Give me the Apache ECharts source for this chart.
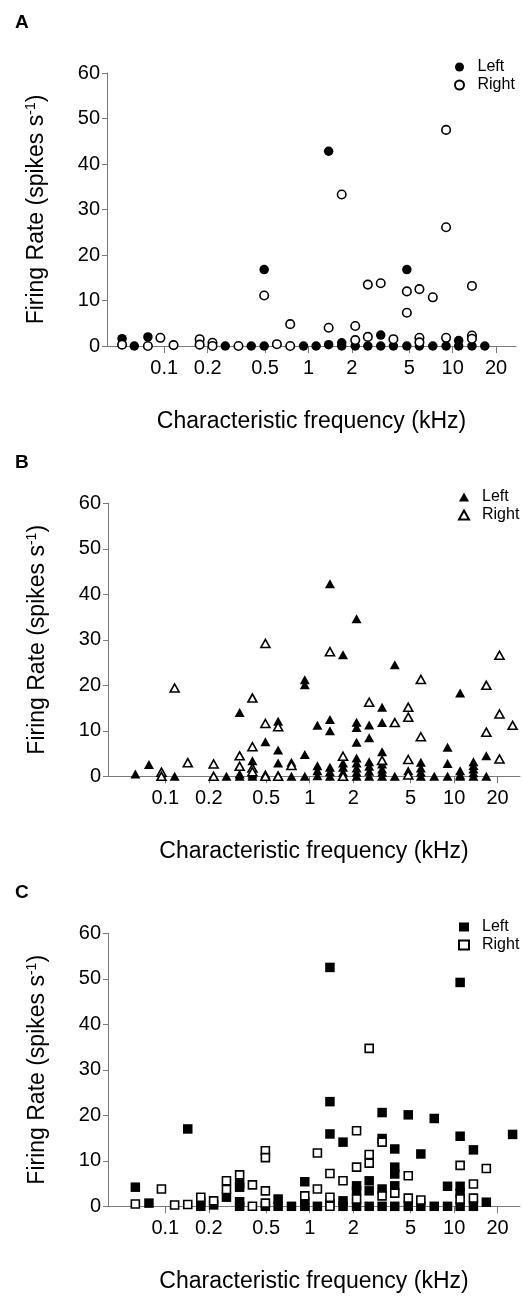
<!DOCTYPE html>
<html><head><meta charset="utf-8">
<script src="https://cdn.jsdelivr.net/npm/echarts@6/dist/echarts.min.js"></script>
<style>html,body{margin:0;padding:0;background:#fff}#c{width:523px;height:1297px}</style>
</head><body><div id="c"></div>
<script>
// tick labels of the frequency axis (kHz)
const xTickValues = [0.1, 0.2, 0.5, 1, 2, 5, 10, 20];

// Panel A (circles): [characteristic frequency kHz, firing rate spikes/s]
const aLeft = [[0.051,1.6],[0.062,0],[0.077,2.0],[0.265,0],[0.401,0],[0.493,16.8],[0.493,0],[0.924,0],[1.13,0],
  [1.38,42.8],[1.38,0.3],[1.70,0.7],[1.70,0],[2.11,0],[2.58,0],[3.17,2.4],[3.17,0],[3.88,0],[4.81,16.8],[4.81,0],
  [5.88,0],[7.28,0],[9.0,0],[11.0,1.2],[11.0,0],[13.6,0],[16.7,0]];
const aRight = [[0.051,0.3],[0.077,0],[0.094,1.8],[0.116,0.2],[0.176,1.5],[0.176,0.3],[0.216,0.7],[0.216,0],[0.327,0],
  [0.493,11.1],[0.604,0.4],[0.747,4.8],[0.747,0],[1.38,4.0],[1.70,33.3],[2.11,4.4],[2.11,1.3],[2.58,13.5],[2.58,2.0],
  [3.17,13.8],[3.88,1.5],[4.81,12.0],[4.81,7.3],[5.88,12.5],[5.88,1.8],[5.88,0.8],[7.28,10.7],[9.0,47.5],[9.0,26.1],
  [9.0,1.8],[13.6,13.2],[13.6,2.3],[13.6,1.6]];

// Panel B (triangles)
const bLeft = [[0.062,0.5],[0.077,2.6],[0.116,0],[0.265,0],[0.327,14.0],[0.327,0.5],[0.327,0],[0.401,3.4],[0.401,0.5],[0.401,0],
  [0.493,7.6],[0.493,0.5],[0.604,12.1],[0.604,5.8],[0.604,2.9],[0.604,0.3],[0.747,3.1],[0.747,0],
  [0.924,21.2],[0.924,20.1],[0.924,4.8],[0.924,0],[1.13,11.2],[1.13,2.3],[1.13,1.2],[1.13,0.1],
  [1.38,42.3],[1.38,12.5],[1.38,10.0],[1.38,2.0],[1.38,1.0],[1.38,0],[1.70,26.7],[1.70,2.9],[1.70,2.0],[1.70,0.9],[1.70,0],
  [2.11,34.6],[2.11,11.9],[2.11,10.7],[2.11,7.5],[2.11,4.0],[2.11,2.9],[2.11,1.8],[2.11,0.9],[2.11,0],
  [2.58,11.3],[2.58,8.5],[2.58,3.2],[2.58,2.2],[2.58,1.1],[2.58,0],
  [3.17,15.2],[3.17,11.8],[3.17,5.4],[3.17,2.7],[3.17,1.6],[3.17,0.9],[3.17,0],[3.88,24.5],[3.88,0],[4.81,1.2],
  [5.88,3.1],[5.88,1.8],[5.88,0.9],[5.88,0],[7.28,0],[9.0,6.4],[9.0,2.8],[9.0,0],[11.0,18.3],[11.0,1.2],[11.0,0.3],[11.0,0],
  [13.6,3.2],[13.6,2.4],[13.6,1.6],[13.6,0.8],[13.6,0],[16.7,4.5],[16.7,0]];
const bRight = [[0.094,0.9],[0.094,0],[0.116,19.4],[0.143,3.0],[0.216,2.7],[0.216,0],[0.327,4.5],[0.327,2.2],
  [0.401,17.2],[0.401,6.5],[0.401,1.8],[0.401,1.0],[0.493,29.2],[0.493,11.6],[0.493,0],[0.604,10.9],[0.604,0],[0.747,2.4],
  [1.38,27.4],[1.70,4.4],[1.70,0],[2.58,16.3],[3.17,3.5],[3.88,11.8],[4.81,15.2],[4.81,13.0],[4.81,3.7],[4.81,0.3],
  [5.88,21.3],[5.88,8.7],[16.7,20.0],[16.7,9.7],[20.6,26.6],[20.6,13.7],[20.6,3.8],[25.4,11.2]];

// Panel C (squares)
const cLeft = [[0.062,4.2],[0.077,0.7],[0.143,17.0],[0.176,0.9],[0.176,0],[0.216,0.3],[0.265,2.0],
  [0.327,4.9],[0.327,4.2],[0.327,1.0],[0.327,0],[0.493,0],[0.604,1.6],[0.604,0],[0.747,0],[0.924,5.4],[0.924,0.9],[0.924,0],
  [1.13,0],[1.38,52.5],[1.38,23.0],[1.38,15.9],[1.38,0.5],[1.70,14.1],[1.70,1.2],[1.70,0],[2.11,4.5],[2.11,3.4],[2.11,0],
  [2.58,5.6],[2.58,3.4],[2.58,0],[3.17,20.6],[3.17,14.9],[3.17,3.8],[3.17,0],[3.88,12.6],[3.88,8.6],[3.88,7.1],[3.88,4.5],[3.88,0],
  [4.81,20.1],[4.81,0],[5.88,11.5],[5.88,0],[7.28,19.3],[7.28,0],[9.0,4.4],[9.0,0],
  [11.0,49.2],[11.0,15.4],[11.0,4.4],[11.0,2.9],[11.0,0],[13.6,12.4],[13.6,0],[16.7,0.9],[25.4,15.8]];
const cRight = [[0.062,0.5],[0.094,3.8],[0.116,0.3],[0.143,0.4],[0.176,2.0],[0.216,1.2],[0.265,5.6],[0.265,3.7],[0.327,6.9],
  [0.401,4.7],[0.401,0],[0.493,12.2],[0.493,10.7],[0.493,3.4],[0.493,0.7],[0.924,2.3],[1.13,11.7],[1.13,3.8],
  [1.38,7.2],[1.38,2.0],[1.38,0],[1.70,5.6],[2.11,16.6],[2.11,8.6],[2.11,1.6],[2.58,34.7],[2.58,11.4],[2.58,9.5],
  [3.17,14.1],[3.17,2.3],[3.88,2.9],[4.81,6.7],[4.81,1.8],[5.88,1.4],[11.0,9.0],[11.0,1.6],[13.6,4.9],[13.6,1.8],[16.7,8.3]];

const FONT = 'Arial, "Liberation Sans", sans-serif';
const AXC = '#7a7a7a';
const toLog = arr => arr.map(p => [Math.log10(p[0]), p[1]]);
const tickLogs = xTickValues.map(v => Math.log10(v));

const panels = [
  {id:'A', top:73, left:107, right:7, xMin:-1.397, xMax:1.439, letterTop:13,
   sym:'circle', fSize:9.5, oSize:8.5, L:aLeft, R:aRight, legLeft:454, legTop:59},
  {id:'B', top:503.3, left:108, right:3, xMin:-1.397, xMax:1.456, letterTop:453,
   sym:'triangle', fSize:[10,9], oSize:[9,8], L:bLeft, R:bRight, legLeft:458, legTop:489},
  {id:'C', top:933.3, left:108, right:3, xMin:-1.397, xMax:1.456, letterTop:883,
   sym:'rect', fSize:9.5, oSize:8, L:cLeft, R:cRight, legLeft:458, legTop:919}
];

const option = {
  animation:false,
  backgroundColor:'#fff',
  textStyle:{fontFamily:FONT},
  grid:[], xAxis:[], yAxis:[], series:[], legend:[], graphic:[]
};

panels.forEach((p, i) => {
  option.grid.push({left:p.left, right:p.right, top:p.top, height:273, containLabel:false});
  option.xAxis.push({
    type:'value', gridIndex:i, min:p.xMin, max:p.xMax,
    axisLine:{show:true, onZero:false, lineStyle:{color:AXC, width:1}},
    axisTick:{show:true, customValues:tickLogs, length:7, lineStyle:{color:AXC}},
    axisLabel:{customValues:tickLogs, fontSize:20, color:'#000', margin:12, fontFamily:FONT,
      formatter: v => String(+Math.pow(10, v).toPrecision(3))},
    splitLine:{show:false},
    name:'Characteristic frequency (kHz)', nameLocation:'middle', nameGap:64,
    nameTextStyle:{fontSize:23, color:'#000', fontFamily:FONT}
  });
  option.yAxis.push({
    type:'value', gridIndex:i, min:0, max:60, interval:10,
    axisLine:{show:true, onZero:false, lineStyle:{color:AXC, width:1}},
    axisTick:{show:true, length:5, lineStyle:{color:AXC}},
    axisLabel:{fontSize:20, color:'#000', margin:7, fontFamily:FONT},
    splitLine:{show:false},
    name:'{a|Firing Rate (spikes s}{s|-1}{a|)}', nameLocation:'middle', nameGap:57, nameRotate:90,
    nameTextStyle:{rich:{
      a:{fontSize:23, color:'#000', fontFamily:FONT, lineHeight:26},
      s:{fontSize:14, color:'#000', fontFamily:FONT, verticalAlign:'top', lineHeight:15}
    }}
  });
  option.series.push({
    name:p.id+'-Left', type:'scatter', xAxisIndex:i, yAxisIndex:i,
    data:toLog(p.L), symbol:p.sym, symbolSize:p.fSize,
    itemStyle:{color:'#000', borderColor:'#000', borderWidth:0, opacity:1}, z:2
  });
  option.series.push({
    name:p.id+'-Right', type:'scatter', xAxisIndex:i, yAxisIndex:i,
    data:toLog(p.R), symbol:p.sym, symbolSize:p.oSize,
    itemStyle:{color:'#fff', borderColor:'#000', borderWidth:1.6, opacity:1}, z:3
  });
  option.legend.push({
    orient:'vertical', left:p.legLeft, top:p.legTop, padding:0, itemWidth:10, itemHeight:9, itemGap:2,
    data:[p.id+'-Left', p.id+'-Right'], selectedMode:false,
    formatter: n => n.split('-')[1],
    textStyle:{fontSize:16, color:'#000', lineHeight:16, fontFamily:FONT, padding:[0,0,0,8]}
  });
  option.graphic.push({
    type:'text', left:15, top:p.letterTop,
    style:{text:p.id, font:'bold 19px ' + FONT, fill:'#000'}
  });
});

const chart = echarts.init(document.getElementById('c'), null, {renderer:'canvas'});
chart.setOption(option);
</script>
</body></html>
